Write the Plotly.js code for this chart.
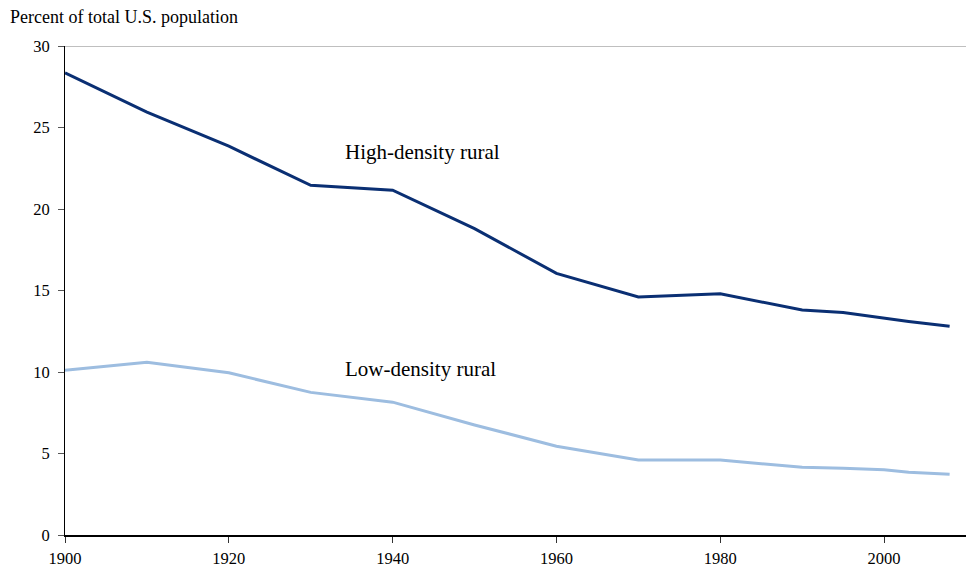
<!DOCTYPE html>
<html>
<head>
<meta charset="utf-8">
<script src="https://cdn.plot.ly/plotly-3.0.1.min.js"></script>
<style>body{margin:0;padding:0;background:#fff}#chart{width:967px;height:567px}</style>
</head>
<body>
<div id="chart"></div>
<script>
var years = [1900, 1910, 1920, 1930, 1940, 1950, 1960, 1970, 1980, 1990, 1995, 2000, 2003, 2008];
var highDensity = [28.35, 25.95, 23.85, 21.45, 21.15, 18.8, 16.05, 14.6, 14.8, 13.8, 13.65, 13.3, 13.1, 12.8];
var lowDensity = [10.1, 10.6, 9.95, 8.75, 8.15, 6.75, 5.45, 4.6, 4.6, 4.15, 4.1, 4.0, 3.85, 3.72];
var xTicks = [1900, 1920, 1940, 1960, 1980, 2000];
var yTicks = [0, 5, 10, 15, 20, 25, 30];

var traces = [
  {x: years, y: highDensity, type: 'scatter', mode: 'lines', name: 'High-density rural',
   line: {color: '#0a2f73', width: 3}},
  {x: years, y: lowDensity, type: 'scatter', mode: 'lines', name: 'Low-density rural',
   line: {color: '#9dbde0', width: 3}}
];

var layout = {
  width: 967, height: 567,
  margin: {l: 65, r: 1, t: 46, b: 32},
  paper_bgcolor: '#fff', plot_bgcolor: '#fff',
  showlegend: false,
  font: {family: 'Liberation Serif, Times New Roman, serif', color: '#000', size: 16.5},
  xaxis: {
    range: [1900, 2010], tickvals: xTicks, ticktext: xTicks.map(String),
    showgrid: false, zeroline: false, showline: true, linecolor: '#000', linewidth: 1.5,
    ticks: 'outside', ticklen: 6, tickcolor: '#333', tickwidth: 1,
    ticklabelstandoff: 2,
    tickfont: {size: 16.5}, fixedrange: true
  },
  yaxis: {
    range: [0, 30], tickvals: yTicks, ticktext: yTicks.map(String),
    showgrid: false, zeroline: false, showline: true, linecolor: '#000', linewidth: 1,
    ticks: 'outside', ticklen: 6, tickcolor: '#555', tickwidth: 1,
    ticklabelstandoff: 5,
    tickfont: {size: 16.5}, fixedrange: true
  },
  shapes: [
    {type: 'line', xref: 'paper', yref: 'y', x0: 0, x1: 1, y0: 30, y1: 30,
     line: {color: '#808080', width: 1}}
  ],
  annotations: [
    {text: 'Percent of total U.S. population', xref: 'paper', yref: 'paper',
     x: -57/901, y: 1, yshift: 29, xanchor: 'left', yanchor: 'middle',
     showarrow: false, font: {size: 18}},
    {text: 'High-density rural', xref: 'x', yref: 'y', x: 1933.9, y: 23.5,
     xanchor: 'left', yanchor: 'middle', showarrow: false, font: {size: 21}},
    {text: 'Low-density rural', xref: 'x', yref: 'y', x: 1933.9, y: 10.2,
     xanchor: 'left', yanchor: 'middle', showarrow: false, font: {size: 21}}
  ]
};

Plotly.newPlot('chart', traces, layout, {displayModeBar: false, staticPlot: true});
</script>
</body>
</html>
